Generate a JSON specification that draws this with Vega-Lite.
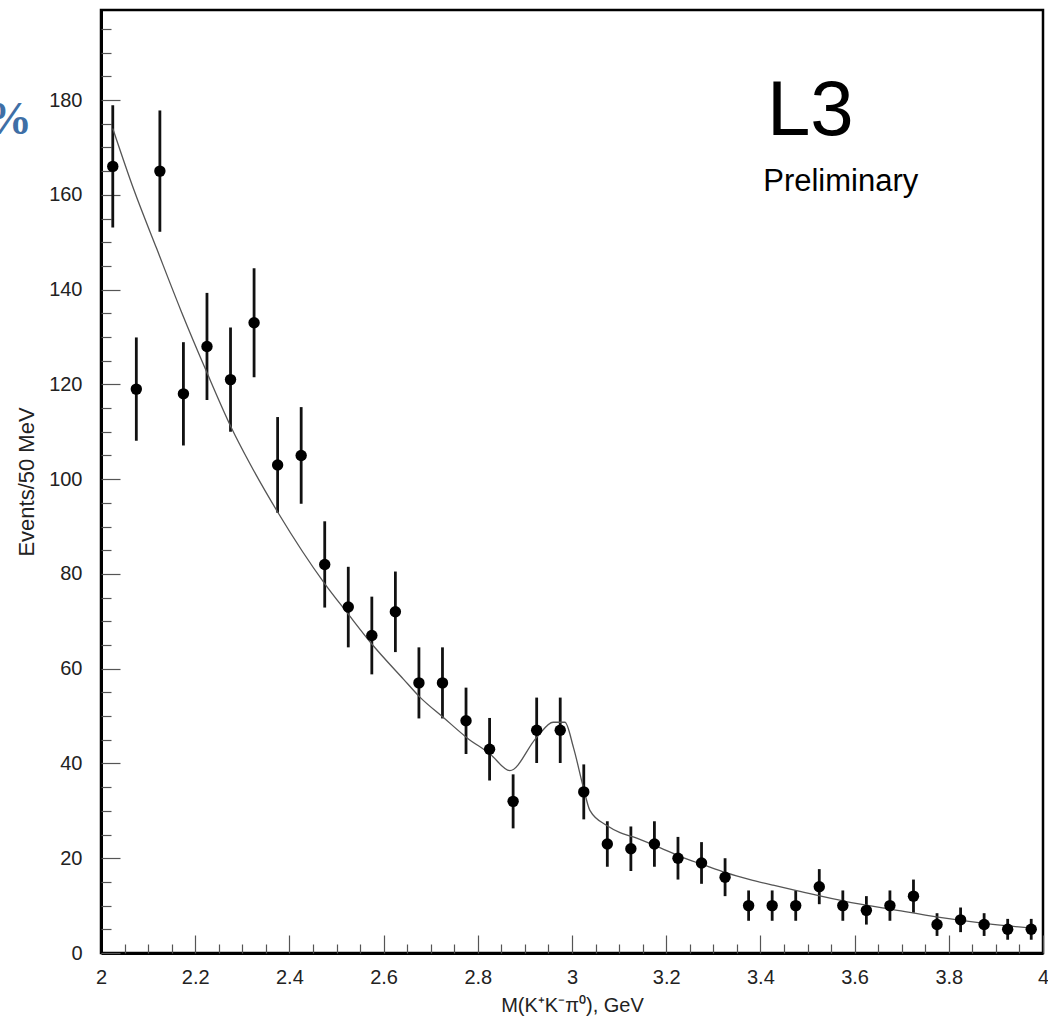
{
  "$schema": "https://vega.github.io/schema/vega-lite/v6.json",
  "width": 942,
  "height": 943,
  "autosize": {"type": "none"},
  "padding": {"left": 101, "top": 10, "right": 5, "bottom": 68},
  "background": "white",
  "config": {
    "view": {"stroke": "black", "strokeWidth": 2.5},
    "font": "Liberation Sans",
    "axis": {"grid": false, "labelFont": "Liberation Sans", "titleFont": "Liberation Sans", "labelColor": "#222", "titleColor": "#222", "titleFontWeight": "normal"}
  },
  "datasets": {
    "pts": [
      {"m": 2.025, "n": 166, "lo": 153.1, "hi": 178.9},
      {"m": 2.075, "n": 119, "lo": 108.1, "hi": 129.9},
      {"m": 2.125, "n": 165, "lo": 152.2, "hi": 177.8},
      {"m": 2.175, "n": 118, "lo": 107.1, "hi": 128.9},
      {"m": 2.225, "n": 128, "lo": 116.7, "hi": 139.3},
      {"m": 2.275, "n": 121, "lo": 110.0, "hi": 132.0},
      {"m": 2.325, "n": 133, "lo": 121.5, "hi": 144.5},
      {"m": 2.375, "n": 103, "lo": 92.9, "hi": 113.1},
      {"m": 2.425, "n": 105, "lo": 94.8, "hi": 115.2},
      {"m": 2.475, "n": 82, "lo": 72.9, "hi": 91.1},
      {"m": 2.525, "n": 73, "lo": 64.5, "hi": 81.5},
      {"m": 2.575, "n": 67, "lo": 58.8, "hi": 75.2},
      {"m": 2.625, "n": 72, "lo": 63.5, "hi": 80.5},
      {"m": 2.675, "n": 57, "lo": 49.5, "hi": 64.5},
      {"m": 2.725, "n": 57, "lo": 49.5, "hi": 64.5},
      {"m": 2.775, "n": 49, "lo": 42.0, "hi": 56.0},
      {"m": 2.825, "n": 43, "lo": 36.4, "hi": 49.6},
      {"m": 2.875, "n": 32, "lo": 26.3, "hi": 37.7},
      {"m": 2.925, "n": 47, "lo": 40.1, "hi": 53.9},
      {"m": 2.975, "n": 47, "lo": 40.1, "hi": 53.9},
      {"m": 3.025, "n": 34, "lo": 28.2, "hi": 39.8},
      {"m": 3.075, "n": 23, "lo": 18.2, "hi": 27.8},
      {"m": 3.125, "n": 22, "lo": 17.3, "hi": 26.7},
      {"m": 3.175, "n": 23, "lo": 18.2, "hi": 27.8},
      {"m": 3.225, "n": 20, "lo": 15.5, "hi": 24.5},
      {"m": 3.275, "n": 19, "lo": 14.6, "hi": 23.4},
      {"m": 3.325, "n": 16, "lo": 12.0, "hi": 20.0},
      {"m": 3.375, "n": 10, "lo": 6.8, "hi": 13.2},
      {"m": 3.425, "n": 10, "lo": 6.8, "hi": 13.2},
      {"m": 3.475, "n": 10, "lo": 6.8, "hi": 13.2},
      {"m": 3.525, "n": 14, "lo": 10.3, "hi": 17.7},
      {"m": 3.575, "n": 10, "lo": 6.8, "hi": 13.2},
      {"m": 3.625, "n": 9, "lo": 6.0, "hi": 12.0},
      {"m": 3.675, "n": 10, "lo": 6.8, "hi": 13.2},
      {"m": 3.725, "n": 12, "lo": 8.5, "hi": 15.5},
      {"m": 3.775, "n": 6, "lo": 3.6, "hi": 8.4},
      {"m": 3.825, "n": 7, "lo": 4.4, "hi": 9.6},
      {"m": 3.875, "n": 6, "lo": 3.6, "hi": 8.4},
      {"m": 3.925, "n": 5, "lo": 2.8, "hi": 7.2},
      {"m": 3.975, "n": 5, "lo": 2.8, "hi": 7.2}
    ],
    "fit": [
      {"m": 2.025, "f": 174},
      {"m": 2.07, "f": 161},
      {"m": 2.118, "f": 148.7},
      {"m": 2.17, "f": 135.5},
      {"m": 2.224, "f": 122.7},
      {"m": 2.277, "f": 110.8},
      {"m": 2.316, "f": 103.3},
      {"m": 2.376, "f": 92.9},
      {"m": 2.476, "f": 77.8},
      {"m": 2.525, "f": 71.5},
      {"m": 2.575, "f": 65.2},
      {"m": 2.642, "f": 57.8},
      {"m": 2.677, "f": 54},
      {"m": 2.727, "f": 49.7},
      {"m": 2.776, "f": 45.5},
      {"m": 2.826, "f": 42},
      {"m": 2.868, "f": 38.5},
      {"m": 2.925, "f": 45.5},
      {"m": 2.96, "f": 48.7},
      {"m": 2.985, "f": 48.7},
      {"m": 3.003, "f": 43.4},
      {"m": 3.024, "f": 35},
      {"m": 3.038, "f": 30.1},
      {"m": 3.074, "f": 26.9},
      {"m": 3.102, "f": 25.4},
      {"m": 3.13, "f": 24.5},
      {"m": 3.18, "f": 22.5},
      {"m": 3.229, "f": 20.4},
      {"m": 3.279, "f": 18.6},
      {"m": 3.328, "f": 16.9},
      {"m": 3.378, "f": 15.5},
      {"m": 3.427, "f": 14.3},
      {"m": 3.484, "f": 13.0},
      {"m": 3.58, "f": 10.9},
      {"m": 3.679, "f": 9.2},
      {"m": 3.781, "f": 7.5},
      {"m": 3.88, "f": 6.2},
      {"m": 3.979, "f": 5.2}
    ],
    "notes": [
      {"m": 3.414, "v": 172.6, "t": "L3", "k": "big"},
      {"m": 3.406, "v": 160.8, "t": "Preliminary", "k": "small"}
    ],
    "edge": [
      {"m": 1.8535, "v": 172.8, "t": "%"}
    ]
  },
  "resolve": {"axis": {"x": "independent", "y": "independent"}},
  "layer": [
    {
      "data": {"name": "pts"},
      "mark": {"type": "rule", "color": "#111", "strokeWidth": 2.8},
      "encoding": {
        "x": {"field": "m", "type": "quantitative", "scale": {"domain": [2, 4], "nice": false, "zero": false},
          "axis": {"orient": "bottom", "values": [2, 2.2, 2.4, 2.6, 2.8, 3, 3.2, 3.4, 3.6, 3.8, 4], "format": ".1~f", "ticks": false, "labelPadding": 14, "labelFontSize": 20, "domain": true, "domainColor": "black", "domainWidth": 3, "title": "M(K⁺K⁻π⁰), GeV", "titleFontSize": 20, "titlePadding": 8, "labelFlush": false}},
        "y": {"field": "lo", "type": "quantitative", "scale": {"domain": [0, 199], "nice": false},
          "axis": {"orient": "left", "values": [0, 20, 40, 60, 80, 100, 120, 140, 160, 180], "ticks": false, "labelPadding": 19, "labelFontSize": 20, "domain": true, "domainColor": "black", "domainWidth": 3, "title": "Events/50 MeV", "titleFontSize": 22, "titlePadding": 10, "labelFlush": false}},
        "y2": {"field": "hi"}
      }
    },
    {
      "data": {"name": "fit"},
      "mark": {"type": "line", "color": "#555", "strokeWidth": 1.3, "interpolate": "monotone"},
      "encoding": {
        "x": {"field": "m", "type": "quantitative",
          "axis": {"orient": "bottom", "values": [2.05, 2.1, 2.15, 2.25, 2.3, 2.35, 2.45, 2.5, 2.55, 2.65, 2.7, 2.75, 2.85, 2.9, 2.95, 3.05, 3.1, 3.15, 3.25, 3.3, 3.35, 3.45, 3.5, 3.55, 3.65, 3.7, 3.75, 3.85, 3.9, 3.95], "labels": false, "domain": false, "tickSize": -9, "tickColor": "#555", "tickWidth": 1.2, "title": null}},
        "y": {"field": "f", "type": "quantitative",
          "axis": {"orient": "left", "values": [5, 10, 15, 25, 30, 35, 45, 50, 55, 65, 70, 75, 85, 90, 95, 105, 110, 115, 125, 130, 135, 145, 150, 155, 165, 170, 175, 185, 190, 195], "labels": false, "domain": false, "tickSize": -10, "tickColor": "#555", "tickWidth": 1.2, "title": null}}
      }
    },
    {
      "data": {"name": "pts"},
      "mark": {"type": "point", "filled": true, "color": "black", "opacity": 1, "size": 130},
      "encoding": {
        "x": {"field": "m", "type": "quantitative",
          "axis": {"orient": "bottom", "values": [2, 2.2, 2.4, 2.6, 2.8, 3, 3.2, 3.4, 3.6, 3.8, 4], "labels": false, "domain": false, "tickSize": -18, "tickColor": "#555", "tickWidth": 1.2, "title": null}},
        "y": {"field": "n", "type": "quantitative",
          "axis": {"orient": "left", "values": [0, 20, 40, 60, 80, 100, 120, 140, 160, 180], "labels": false, "domain": false, "tickSize": -19, "tickColor": "#555", "tickWidth": 1.2, "title": null}}
      }
    },
    {
      "data": {"name": "notes"},
      "mark": {"type": "text", "align": "left", "baseline": "alphabetic", "font": "Liberation Sans", "color": "black"},
      "encoding": {
        "x": {"field": "m", "type": "quantitative", "axis": null},
        "y": {"field": "v", "type": "quantitative", "axis": null},
        "text": {"field": "t"},
        "size": {"field": "k", "type": "nominal", "scale": {"domain": ["big", "small"], "range": [78, 31]}, "legend": null}
      }
    },
    {
      "data": {"name": "edge"},
      "mark": {"type": "text", "align": "right", "baseline": "alphabetic", "font": "Liberation Serif", "fontWeight": "bold", "fontSize": 46, "color": "#3f6fa6", "clip": false},
      "encoding": {
        "x": {"field": "m", "type": "quantitative", "axis": null},
        "y": {"field": "v", "type": "quantitative", "axis": null},
        "text": {"field": "t"}
      }
    }
  ]
}
